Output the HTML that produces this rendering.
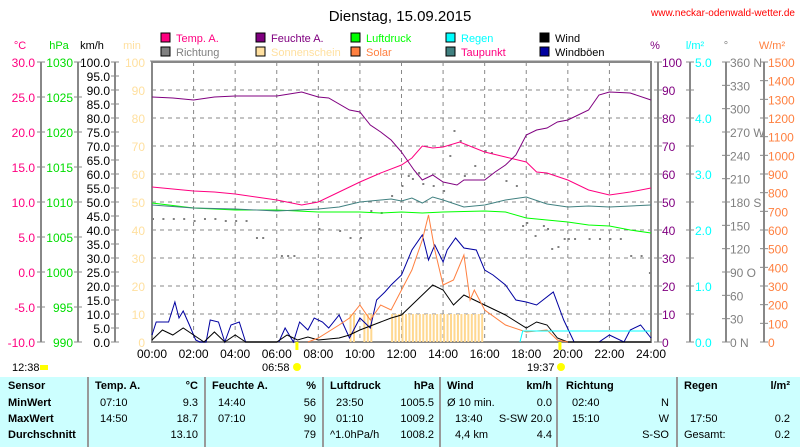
<!DOCTYPE html>
<html><head><meta charset="utf-8"><style>
body{margin:0;background:#fff;width:800px;height:447px;overflow:hidden;font-family:"Liberation Sans",sans-serif}
svg{display:block}
text{font-family:"Liberation Sans",sans-serif;font-size:11px}
</style></head><body>
<svg id="s" width="800" height="447" xmlns="http://www.w3.org/2000/svg">
<rect x="0" y="377" width="800" height="70" fill="#ccffff"/>
<text x="400" y="21" text-anchor="middle" style="font-size:15px">Dienstag, 15.09.2015</text>
<text x="795" y="16" text-anchor="end" fill="#ff0000" style="font-size:10px">www.neckar-odenwald-wetter.de</text>
</svg>
<script>
const s=document.getElementById('s');const NS='http://www.w3.org/2000/svg';
function el(t,a,txt){const e=document.createElementNS(NS,t);for(const k in a)e.setAttribute(k,a[k]);if(txt!==undefined)e.textContent=txt;s.appendChild(e);return e;}
const L=152,R=651,T=62,B=342;const X=h=>L+h*(R-L)/24;
// legend
const leg=[[161,'#ff0080','Temp. A.','#ff0080'],[256,'#800080','Feuchte A.','#800080'],[351,'#00ff00','Luftdruck','#00ff00'],[446,'#00ffff','Regen','#00ffff'],[540,'#000000','Wind','#000'],
[161,'#808080','Richtung','#808080'],[256,'#ffe0a0','Sonnenschein','#ffe0a0'],[351,'#ff8040','Solar','#ff8040'],[446,'#408080','Taupunkt','#ff0080'],[540,'#0000a0','Windböen','#000']];
leg.forEach((l,i)=>{const y=i<5?33:47;el('rect',{x:l[0],y:y,width:9,height:9,fill:l[1],stroke:'#000','stroke-width':1});el('text',{x:l[0]+15,y:y+9,fill:l[3]},l[2]);});
el('line',{x1:150,y1:61,x2:650,y2:61,stroke:'#888'});
// grid
for(let i=1;i<10;i++){const y=T+i*28;el('line',{x1:L,y1:y,x2:R,y2:y,stroke:'#888','stroke-dasharray':'4,4'});}
for(let h=2;h<24;h+=2){el('line',{x1:X(h),y1:T,x2:X(h),y2:B,stroke:'#888','stroke-dasharray':'4,4'});}
// axes left
const ax=(x,vals,col,lx,anchor,ticks)=>{el('line',{x1:x,y1:T,x2:x,y2:B,stroke:'#888','stroke-width':2});
 vals.forEach((v,i)=>{const y=T+i*(280/(vals.length-1));el('line',{x1:x-4,y1:y,x2:x+4,y2:y,stroke:'#888'});if(v!=='')el('text',{x:lx,y:y+5,fill:col,'text-anchor':anchor,style:'font-size:12px'},v);});};
ax(41,['30.0','25.0','20.0','15.0','10.0','5.0','0.0','-5.0','-10.0'],'#ff0080',35,'end');
ax(78,['1030','1025','1020','1015','1010','1005','1000','995','990'],'#00dd00',73,'end');
let kv=[];for(let v=100;v>=0;v-=5)kv.push(v.toFixed(1));
ax(115,kv,'#000',110,'end');
let mv=[];for(let v=100;v>=0;v-=10)mv.push(''+v);
mv.forEach((v,i)=>el('text',{x:145,y:T+i*28+5,fill:'#ffe0a0','text-anchor':'end',style:'font-size:12px'},v));
// units
[['°C',20,'#ff0080'],['hPa',59,'#00dd00'],['km/h',92,'#000'],['min',132,'#ffe0a0'],['%',655,'#800080'],['l/m²',695,'#00ffff'],['°',726,'#808080'],['W/m²',772,'#ff8040']].forEach(u=>el('text',{x:u[1],y:49,fill:u[2],'text-anchor':'middle'},u[0]));
// right axes
ax(658,mv,'#800080',662,'start');
ax(690,['5.0','','4.0','','3.0','','2.0','','1.0','','0.0'].filter((v,i)=>true),'#00ffff',695,'start');
ax(726,['360 N','330','300','270 W','240','210','180 S','150','120','90 O','60','30','0 N'],'#808080',730,'start');
let wv=[];for(let v=1500;v>=0;v-=100)wv.push(''+v);
ax(764,wv,'#ff8040',768,'start');
// plot border
el('rect',{x:L,y:T,width:R-L,height:B-T,fill:'none',stroke:'#888','stroke-width':2});
// x labels
for(let h=0;h<=24;h+=2){el('text',{x:X(h),y:358,'text-anchor':'middle',style:'font-size:12px'},(h<10?'0':'')+h+':00');}
// sunshine bars
for(let m=570;m<960;m+=10){if([590,600,640,650,660,670,680].includes(m))continue;const x=X(m/60);el('rect',{x:x,y:314,width:2,height:28,fill:'#ffd890'});}
function pl(pts,col,w){el('polyline',{points:pts.map(p=>X(p[0]).toFixed(1)+','+p[1]).join(' '),fill:'none',stroke:col,'stroke-width':w||1});}
// direction dots
const dots=[[0,218],[0.5,218],[1,218],[1.5,218],[2,220],[2.5,218],[3,218],[3.5,220],[4,220],[4.5,220],[5,237],[5.3,237],[6.2,255],[6.5,255],[6.8,255],[8,228],[9,230],[9.5,237],[10,237],[10.5,210],[11,212],[11.5,195],[12,185],[12.3,175],[12.5,178],[12.8,172],[13,183],[13.5,185],[14,190],[14.3,155],[14.5,130],[14.8,140],[15,175],[15.5,165],[16,150],[16.3,152],[17,180],[17.5,185],[17.8,225],[18,222],[18.4,235],[18.8,225],[19,228],[19.2,248],[19.5,246],[19.8,238],[20,238],[20.3,238],[21,238],[21.5,238],[22,238],[22.5,238],[23,255],[23.5,255],[23.9,272]];
dots.forEach(d=>el('rect',{x:X(d[0]),y:d[1],width:2,height:2,fill:'#808080'}));
pl([[0,203],[2,208],[4,210],[6,210],[8,212],[10,212],[11,213],[12,212],[13,213],[14,212],[16,211],[17,212],[18,218],[19,220],[20,222],[21,225],[22,226],[23,230],[24,233]],'#00ff00');
pl([[0,205],[2,208],[4,209],[6,211],[8,209],[9,207],[10,202],[11,200],[11.5,199],[12,201],[12.5,198],[13,203],[13.5,197],[14,200],[15,207],[16,205],[17,200],[18,197],[19,204],[20,207],[21,206],[22,207],[24,205]],'#408080');
pl([[0,187],[1,189],[2,191],[3,192],[4,194],[5,197],[6,200],[7.2,205],[8,202],[9,192],[9.6,186],[10,182],[11,173],[12,165],[12.5,158],[13,146],[13.5,148],[14,147],[14.8,142],[16,152],[17,157],[18,162],[18.5,172],[19,173],[20,180],[21,190],[22,195],[23,192],[24,188]],'#ff0080');
pl([[0,97],[1,98],[2,100],[3,97],[4,96],[5,96],[6,96],[7.2,92],[8,97],[8.5,98],[9.5,110],[10,112],[10.5,125],[11,132],[11.5,140],[12,152],[12.6,170],[13,180],[13.5,175],[14,182],[14.67,185],[15,180],[16,180],[16.5,172],[17,165],[17.5,155],[18,135],[18.5,130],[19,128],[19.5,122],[20,120],[21,110],[21.5,95],[22,92],[23,93],[24,100]],'#800080');
pl([[0,335],[0.2,322],[0.8,322],[1.1,302],[1.3,318],[1.5,311],[1.8,325],[2.1,340],[2.3,342],[2.6,342],[2.8,320],[3.2,322],[3.5,342],[3.8,325],[4.2,322],[4.5,342]],'#0000a0');
pl([[6.1,342],[6.4,328],[6.8,342],[7.1,322],[7.5,330],[7.8,318],[8.2,322],[8.5,328],[9,315],[9.5,338],[10,318],[10.5,328],[10.8,300],[11.2,292],[11.5,285],[12,275],[12.5,250],[13,235],[13.3,260],[13.6,245],[14,262],[14.2,250],[14.6,238],[15,248],[15.6,250],[16,270],[16.4,275],[17,285],[17.5,300],[18,302],[18.5,305],[19.3,292],[19.8,320],[20.3,342],[21.5,342],[22,335],[22.7,342],[23,330],[23.5,325],[24,338]],'#0000a0');
pl([[0,340],[0.5,330],[1,335],[1.5,328],[2,335],[2.5,342],[3,332],[3.5,342],[4,335],[4.5,342],[6,342],[6.5,335],[7,340],[7.5,337],[8,340],[9,338],[9.5,335],[10,330],[11,322],[11.5,318],[12,315],[12.5,305],[13,295],[13.5,285],[14,290],[14.5,305],[15,295],[15.5,300],[16,305],[17,315],[18,328],[18.5,322],[19,325],[19.5,338],[20,342],[24,342]],'#000');
pl([[7.5,342],[8,338],[9,325],[9.5,318],[10,305],[10.5,320],[11,305],[11.5,310],[12,290],[12.5,270],[13,240],[13.3,215],[13.6,250],[14,285],[14.5,280],[15,255],[15.3,300],[15.5,290],[16,310],[17,325],[18,332],[19,330],[19.5,340],[20,342]],'#ff8040');
pl([[17.7,342],[17.83,331],[24,331]],'#00ffff');
// sun markers
el('line',{x1:X(6.97),y1:342,x2:X(6.97),y2:350,stroke:'#ffff00','stroke-width':3});
el('line',{x1:X(19.62),y1:342,x2:X(19.62),y2:350,stroke:'#ffff00','stroke-width':3});
el('text',{x:12,y:371},'12:38');el('rect',{x:40,y:365,width:8,height:5,fill:'#ffff00'});
el('text',{x:262,y:371},'06:58');el('circle',{cx:297,cy:367,r:4,fill:'#ffff00'});
el('text',{x:527,y:371},'19:37');el('circle',{cx:561,cy:367,r:4,fill:'#ffff00'});
// table
[88,205,323,440,557,677].forEach(x=>el('line',{x1:x,y1:377,x2:x,y2:447,stroke:'#999','stroke-width':2}));
const rows=[385,402,418,434];
const b=(x,y,t,a)=>el('text',{x:x,y:y+4,'font-weight':'bold','text-anchor':a||'start'},t);
const n=(x,y,t,a)=>el('text',{x:x,y:y+4,'text-anchor':a||'start'},t);
b(8,rows[0],'Sensor');b(8,rows[1],'MinWert');b(8,rows[2],'MaxWert');b(8,rows[3],'Durchschnitt');
b(95,rows[0],'Temp. A.');b(198,rows[0],'°C','end');n(100,rows[1],'07:10');n(198,rows[1],'9.3','end');n(100,rows[2],'14:50');n(198,rows[2],'18.7','end');n(198,rows[3],'13.10','end');
b(212,rows[0],'Feuchte A.');b(316,rows[0],'%','end');n(218,rows[1],'14:40');n(316,rows[1],'56','end');n(218,rows[2],'07:10');n(316,rows[2],'90','end');n(316,rows[3],'79','end');
b(330,rows[0],'Luftdruck');b(434,rows[0],'hPa','end');n(336,rows[1],'23:50');n(434,rows[1],'1005.5','end');n(336,rows[2],'01:10');n(434,rows[2],'1009.2','end');n(330,rows[3],'^1.0hPa/h');n(434,rows[3],'1008.2','end');
b(447,rows[0],'Wind');b(552,rows[0],'km/h','end');n(447,rows[1],'Ø 10 min.');n(552,rows[1],'0.0','end');n(455,rows[2],'13:40');n(552,rows[2],'S-SW 20.0','end');n(455,rows[3],'4,4 km');n(552,rows[3],'4.4','end');
b(566,rows[0],'Richtung');n(572,rows[1],'02:40');n(669,rows[1],'N','end');n(572,rows[2],'15:10');n(669,rows[2],'W','end');n(669,rows[3],'S-SO','end');
b(684,rows[0],'Regen');b(790,rows[0],'l/m²','end');n(690,rows[2],'17:50');n(790,rows[2],'0.2','end');n(684,rows[3],'Gesamt:');n(790,rows[3],'0.2','end');
</script>
</body></html>
